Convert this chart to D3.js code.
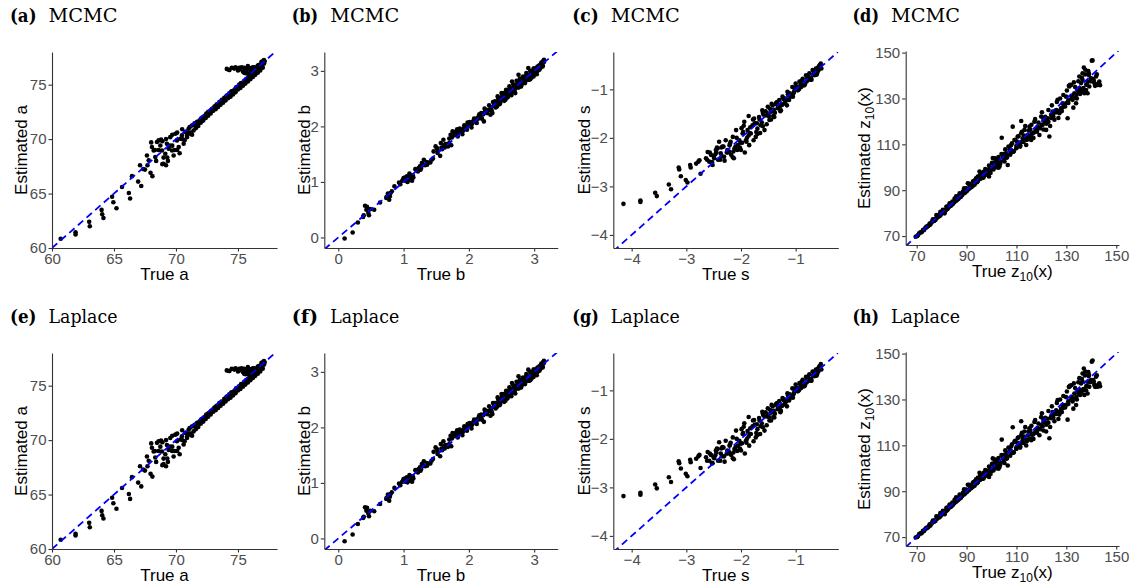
<!DOCTYPE html>
<html><head><meta charset="utf-8">
<script src="https://cdn.jsdelivr.net/npm/d3@7"></script>
<style>body{margin:0;background:#fff}</style>
</head><body><svg id="c" width="1133" height="585"></svg>
<script>
// ---------- DATA ----------
const aTicks = [60, 65, 70, 75];
const bTicks = [0, 1, 2, 3];
const sTicks = [-4, -3, -2, -1];
const zTicks = [70, 90, 110, 130, 150];

const aTrue = [60.7,61.9,61.9,63.0,63.05,64.0,64.05,64.15,64.85,64.95,65.2,65.65,66.2,66.3,66.45,66.95,67.2,67.1,67.35,67.95,68.1,
67.66,67.8,68.06,68.2,68.33,68.47,68.6,68.74,68.87,69.0,69.14,69.27,69.41,69.54,69.68,69.81,69.95,70.08,70.22,70.35,70.48,70.62,70.75,70.89,71.02,71.16,71.29,71.42,
71.5,71.6,71.7,71.8,71.9,72.0,72.1,72.2,72.3,72.4,72.5,72.6,72.7,72.8,72.9,73.0,73.1,73.2,73.3,73.4,73.5,73.6,73.7,73.8,73.9,74.0,74.1,74.2,74.3,74.4,74.5,74.6,74.7,74.8,74.9,75.0,75.1,75.2,75.3,75.4,75.5,75.6,75.7,75.8,75.9,76.0,76.1,76.2,76.3,76.4,76.5,76.6,76.7,76.8,76.9,77.0,77.1,77.15,76.95,76.7,76.4,76.2,77.05,
74.1,74.5,74.8,75.0,75.2,75.4,75.5,75.7,75.9,76.0,76.2,75.8,76.3];
const aEstMCMC = [60.85,61.45,61.25,62.4,62.0,63.5,63.1,62.75,64.7,64.2,63.65,65.6,65.05,64.55,66.6,66.1,65.7,67.6,67.25,66.9,66.6,
68.5,68.05,69.27,68.96,68.35,69.73,69.88,69.42,68.96,67.74,68.66,69.57,69.12,70.18,68.96,68.5,70.49,69.88,69.27,70.03,70.34,69.57,70.64,70.18,70.95,70.49,71.25,70.79,
71.45,71.2,71.6,71.5,71.7,71.8,71.95,72.0,72.1,72.2,72.3,72.5,72.5,72.6,72.75,72.8,73.0,73.0,73.2,73.15,73.4,73.4,73.6,73.5,73.8,73.8,74.0,74.0,74.2,74.1,74.4,74.3,74.5,74.5,74.7,74.8,75.0,74.9,75.1,75.1,75.3,75.4,75.5,75.6,75.7,75.8,75.9,76.0,76.1,76.2,76.3,76.4,76.5,76.6,76.8,76.9,77.0,77.15,77.05,76.8,76.5,76.35,77.2,
76.45,76.55,76.6,76.3,76.5,76.2,76.55,76.3,76.45,76.1,76.6,76.0,76.4];
const aEstLaplace = [60.85,61.4,61.25,62.4,62.0,63.5,63.1,62.8,64.7,64.2,63.7,65.6,65.05,64.6,66.6,66.1,65.75,67.6,67.3,66.9,66.65,
68.5,68.1,69.3,68.95,68.4,69.75,69.9,69.4,68.95,67.8,68.7,69.55,69.1,70.2,69.0,68.5,70.5,69.9,69.3,70.05,70.35,69.6,70.65,70.2,70.95,70.5,71.25,70.8,
71.4,71.2,71.6,71.55,71.7,71.8,71.9,72.0,72.1,72.2,72.3,72.45,72.5,72.6,72.7,72.8,73.0,73.0,73.15,73.15,73.4,73.4,73.55,73.5,73.8,73.75,74.0,74.0,74.2,74.1,74.4,74.3,74.5,74.5,74.7,74.8,74.95,74.9,75.1,75.1,75.3,75.4,75.5,75.55,75.7,75.8,75.9,76.0,76.1,76.2,76.3,76.4,76.5,76.6,76.75,76.9,77.0,77.15,77.05,76.8,76.5,76.35,77.2,
76.4,76.55,76.6,76.3,76.5,76.25,76.55,76.3,76.45,76.1,76.6,76.05,76.4];
// further points of the dense regions (indistinguishable between methods)
const aTrueMore = [71.55,71.75,71.95,72.15,72.35,72.55,72.75,72.95,73.15,73.35,73.55,73.75,73.95,74.15,74.35,74.55,74.75,74.95,75.15,75.35,75.55,75.75,75.95,76.15,76.35,76.55,76.75,76.95,77.1,72.05,72.45,72.85,73.25,73.65,74.05,74.45,74.85,75.25,75.65,76.05,76.45,76.85,
74.3,74.7,75.1,75.3,75.6,75.9,76.1,76.4,76.6,76.8,
68.3,68.9,69.3,69.7,70.1,70.5,70.9,71.2,
71.6,71.8,72.0,72.2,72.4,72.6,72.8,73.0,73.2,73.4,73.6,73.8,74.0,74.2,74.4,74.6,74.8,75.0,75.2,75.4,75.6,75.8,76.0,76.2,76.4,76.6,76.8,77.0,76.9,76.6,77.1,76.3,75.6,76.0,74.3,74.7,75.1,75.8,75.5,
67.5,67.7,68.0,68.4,68.6,68.8,69.0,69.2,69.35,69.5,69.7,69.9,70.1,70.3,70.5,70.7,70.9,71.1,71.3,71.4,68.9,69.2];
const aEstMore = [71.3,71.45,71.65,71.85,72.0,72.25,72.4,72.6,72.85,73.0,73.2,73.4,73.6,73.85,74.0,74.2,74.4,74.6,74.85,75.0,75.2,75.4,75.6,75.85,76.05,76.25,76.45,76.7,76.95,71.9,72.35,72.7,73.1,73.5,73.9,74.35,74.75,75.15,75.5,75.9,76.3,76.75,
76.35,76.5,76.4,76.6,76.35,76.55,76.25,76.5,76.7,76.85,
69.0,69.8,68.3,69.4,69.0,70.0,70.3,70.6,
71.0,71.2,71.5,71.7,71.95,72.15,72.35,72.6,72.75,72.95,73.15,73.35,73.55,73.75,73.9,74.1,74.3,74.55,74.7,74.9,75.1,75.3,75.5,75.7,75.9,76.1,76.3,76.55,77.1,76.75,77.25,76.6,76.05,76.5,76.35,76.5,76.55,76.7,76.1,
67.2,67.6,69.7,68.0,69.0,69.95,68.3,70.0,68.0,69.4,70.4,69.0,70.6,68.7,70.9,69.9,70.6,71.1,70.4,71.3,67.7,67.6];

const bTrue = [0.097,0.22,0.30,0.39,0.41,0.43,0.46,0.49,0.55,0.64,0.735,0.76,0.79,0.82,0.86,0.93,1.0,1.05,1.09,1.12,1.03,1.08,1.18,1.23,1.28,1.31,1.36,1.41,1.46,1.49,1.51,1.56,1.59,1.61,1.64,1.68,1.72,1.75,1.79,1.82,1.85,1.89,1.94,1.98,2.02,2.07,2.11,2.15,2.19,2.23,2.25,2.30,2.33,2.36,2.40,2.43,2.48,2.51,2.53,2.56,2.60,2.63,2.66,2.68,2.71,2.74,2.76,2.80,2.84,2.86,2.89,2.91,2.94,2.97,2.99,3.02,3.04,3.07,3.09,3.12,3.14,2.76,
1.02,1.06,1.10,1.13,1.15,1.20,1.25,1.33,1.45,1.62,1.70,1.78,1.84,1.88,1.92,1.96,2.00,2.05,2.09,2.13,2.17,2.21,2.27,2.32,2.38,2.45,2.50,2.55,2.58,2.62,2.65,2.70,2.73,2.78,2.82,2.88,2.92,2.95,3.00,3.05,3.10,3.13,3.11,2.98];
const bEstMCMC = [-0.02,0.09,0.27,0.40,0.57,0.50,0.44,0.51,0.50,0.63,0.71,0.79,0.74,0.83,0.92,0.99,1.07,1.10,1.15,1.05,1.02,1.03,1.23,1.25,1.34,1.40,1.31,1.35,1.55,1.64,1.61,1.47,1.59,1.76,1.68,1.64,1.85,1.91,1.88,1.95,1.91,1.94,2.0,2.07,2.04,2.10,2.09,2.18,2.24,2.09,2.27,2.30,2.21,2.24,2.45,2.36,2.42,2.54,2.60,2.48,2.54,2.63,2.81,2.69,2.60,2.72,2.81,2.75,2.87,2.78,2.93,3.05,2.85,2.96,2.90,3.02,2.94,3.08,3.05,3.14,3.18,2.93,
1.08,1.00,1.12,1.02,1.08,1.21,1.28,1.30,1.42,1.66,1.70,1.86,1.88,1.90,1.96,1.98,2.02,2.05,2.12,2.15,2.20,2.22,2.25,2.30,2.37,2.50,2.48,2.52,2.60,2.66,2.60,2.68,2.75,2.72,2.80,2.84,2.88,2.98,2.96,3.00,3.06,3.10,3.15,2.99];
const bEstLaplace = [-0.05,0.07,0.26,0.39,0.56,0.50,0.45,0.50,0.49,0.62,0.71,0.79,0.75,0.83,0.91,0.99,1.07,1.10,1.14,1.05,1.02,1.04,1.23,1.25,1.34,1.39,1.31,1.35,1.56,1.64,1.61,1.48,1.59,1.75,1.68,1.65,1.85,1.90,1.88,1.95,1.91,1.94,2.0,2.06,2.04,2.10,2.09,2.18,2.23,2.10,2.27,2.30,2.21,2.24,2.44,2.37,2.42,2.54,2.60,2.48,2.55,2.63,2.80,2.69,2.61,2.72,2.81,2.75,2.86,2.78,2.93,3.04,2.85,2.96,2.91,3.02,2.94,3.08,3.05,3.14,3.18,2.92,
1.08,1.01,1.12,1.02,1.08,1.21,1.28,1.30,1.43,1.66,1.70,1.86,1.88,1.90,1.96,1.98,2.02,2.05,2.12,2.15,2.20,2.22,2.25,2.30,2.37,2.50,2.48,2.52,2.60,2.66,2.60,2.68,2.75,2.72,2.80,2.84,2.88,2.98,2.96,3.00,3.06,3.10,3.15,2.99];
const bTrueMore = [0.95,0.98,1.04,1.07,1.11,1.14,1.22,1.27,1.30,1.38,1.43,1.52,1.58,1.66,1.74,1.77,1.81,1.87,1.91,1.95,1.99,2.03,2.06,2.10,2.14,2.18,2.22,2.26,2.29,2.34,2.39,2.42,2.46,2.49,2.52,2.57,2.61,2.64,2.67,2.69,2.72,2.75,2.77,2.79,2.81,2.83,2.85,2.87,2.90,2.93,2.96,3.01,3.03,3.06,3.08,3.11,3.15,2.88,2.92,3.00,
1.70,1.73,1.80,1.83,1.86,1.90,1.93,1.97,2.01,2.04,2.08,2.12,2.16,2.20,2.24,2.28,2.31,2.35,2.37,2.41,2.44,2.47,2.50,2.54,2.57,2.59,2.62,2.65,2.68,2.70,2.73,2.76,2.78,2.80,2.83,2.86,2.88,2.91,2.94,2.96,2.99,3.02,3.05,3.08,3.10,3.13,3.15,0.38,0.44,0.47,0.78,0.80,0.74,0.99,1.06,1.12,1.26,1.35,1.52,1.57,1.63];
const bEstMore = [0.96,1.02,1.04,1.09,1.06,1.12,1.19,1.25,1.31,1.35,1.40,1.52,1.62,1.68,1.80,1.84,1.86,1.92,1.92,1.97,2.02,2.03,2.08,2.12,2.14,2.19,2.22,2.30,2.28,2.34,2.40,2.44,2.46,2.52,2.56,2.55,2.62,2.58,2.68,2.72,2.74,2.70,2.78,2.80,2.76,2.84,2.82,2.90,2.86,2.88,2.95,2.98,3.04,3.02,3.10,3.12,3.16,2.92,2.84,3.04,
1.78,1.66,1.90,1.82,1.96,1.86,2.02,1.94,2.08,1.98,2.14,2.06,2.22,2.14,2.32,2.24,2.38,2.28,2.44,2.34,2.54,2.40,2.60,2.46,2.66,2.52,2.72,2.56,2.76,2.64,2.82,2.70,2.86,2.72,2.90,2.80,2.96,2.84,3.00,2.88,3.04,2.96,3.08,3.02,3.12,3.08,3.20,0.37,0.55,0.40,0.68,0.80,0.73,1.04,1.06,1.09,1.22,1.36,1.58,1.70,1.62];

const sTrue = [-4.15,-3.84,-3.84,-3.57,-3.54,-3.32,-3.28,-3.14,-3.13,-3.10,-3.01,-2.98,-2.93,-2.92,-2.82,-2.78,-2.74,-2.76,
-2.64,-2.61,-2.58,-2.55,-2.52,-2.49,-2.46,-2.43,-2.40,-2.37,-2.34,-2.31,-2.28,-2.25,-2.21,-2.18,-2.15,-2.12,-2.09,-2.06,-2.03,-2.00,-1.97,-1.94,-1.91,-1.88,-1.85,-1.82,-1.79,-1.76,-1.73,-1.70,-1.67,-1.64,-1.61,-1.57,-1.54,-1.51,-1.48,-1.45,-1.42,-1.39,-1.36,-1.33,-1.30,-1.27,-1.24,-1.21,-1.18,-1.15,-1.12,-1.09,-1.06,-1.03,-1.00,-0.97,-0.93,-0.90,-0.87,-0.84,-0.81,-0.78,-0.75,-0.72,-0.69,-0.66,-0.63,-0.60,-0.57,-0.54,-0.53,
-2.45,-2.35,-2.22,-2.10,-1.98,-1.86,-1.75,-1.62,-1.50,-1.40,-1.32,-1.25,-1.17,-1.10,-1.04,-0.98,-0.92,-0.86,-0.80,-0.74,-0.68,-0.62,-0.58,-0.56];
const sEstMCMC = [-3.36,-3.29,-3.32,-3.13,-3.20,-2.96,-3.06,-2.61,-2.65,-2.79,-2.87,-2.92,-2.56,-2.61,-2.53,-2.49,-2.74,-2.46,
-2.42,-2.29,-2.49,-2.35,-2.56,-2.42,-2.25,-2.22,-2.08,-2.32,-2.18,-2.39,-2.05,-2.25,-2.15,-2.35,-1.98,-2.22,-1.84,-2.15,-2.05,-2.25,-1.91,-1.67,-2.05,-1.84,-2.15,-1.91,-1.74,-1.60,-1.98,-1.81,-1.57,-1.74,-1.43,-1.84,-1.54,-1.36,-1.63,-1.46,-1.33,-1.57,-1.28,-1.39,-1.22,-1.43,-1.15,-1.29,-1.19,-1.05,-1.22,-1.12,-0.95,-1.05,-0.88,-0.98,-0.84,-0.95,-0.78,-0.88,-0.71,-0.81,-0.67,-0.78,-0.60,-0.71,-0.57,-0.64,-0.52,-0.47,-0.57,
-2.30,-2.38,-2.28,-2.18,-2.10,-1.95,-1.70,-1.68,-1.50,-1.42,-1.35,-1.32,-1.22,-1.15,-1.08,-1.00,-0.93,-0.90,-0.84,-0.76,-0.70,-0.62,-0.60,-0.50];
const sEstLaplace = [-3.18,-3.11,-3.15,-2.94,-3.02,-2.79,-2.89,-2.46,-2.50,-2.61,-2.72,-2.77,-2.43,-2.48,-2.41,-2.36,-2.60,-2.33,
-2.38,-2.27,-2.45,-2.33,-2.50,-2.40,-2.24,-2.21,-2.07,-2.30,-2.17,-2.36,-2.04,-2.24,-2.14,-2.33,-1.97,-2.21,-1.83,-2.14,-2.04,-2.24,-1.90,-1.68,-2.04,-1.84,-2.14,-1.90,-1.74,-1.61,-1.97,-1.80,-1.57,-1.74,-1.44,-1.83,-1.54,-1.37,-1.62,-1.46,-1.33,-1.56,-1.28,-1.39,-1.22,-1.42,-1.16,-1.29,-1.19,-1.06,-1.21,-1.12,-0.96,-1.05,-0.88,-0.98,-0.85,-0.95,-0.78,-0.88,-0.72,-0.81,-0.67,-0.77,-0.61,-0.71,-0.57,-0.64,-0.52,-0.46,-0.57,
-2.28,-2.36,-2.27,-2.17,-2.09,-1.95,-1.71,-1.68,-1.50,-1.42,-1.35,-1.32,-1.22,-1.15,-1.08,-1.00,-0.93,-0.90,-0.84,-0.76,-0.70,-0.62,-0.60,-0.50];
const sTrueMore = [-2.50,-2.44,-2.38,-2.32,-2.26,-2.20,-2.14,-2.08,-2.02,-1.96,-1.90,-1.84,-1.78,-1.72,-1.66,-1.60,-1.55,-1.49,-1.44,-1.38,-1.34,-1.29,-1.23,-1.19,-1.14,-1.08,-1.02,-0.96,-0.91,-0.85,-0.79,-0.73,-0.67,-0.61,-0.59,-1.70,-1.95,-2.15,-1.45,-1.60,
-2.62,-2.57,-2.53,-2.47,-2.42,-2.36,-2.30,-2.24,-2.19,-2.13,-2.07,-2.01,-1.99,-1.93,-1.89,-1.83,-1.77,-1.71,-1.65,-1.59,-1.53,-1.47,-1.41,-1.35,-1.28,-1.22,-1.16,-1.11,-1.05,-0.99,-0.94,-0.89,-0.83,-0.77,-0.71,-0.65,-0.62,-0.58,-1.86];
const sEstMore = [-2.38,-2.20,-2.45,-2.18,-2.30,-2.12,-2.28,-2.00,-2.20,-1.88,-2.08,-1.90,-1.62,-1.88,-1.62,-1.76,-1.45,-1.55,-1.30,-1.48,-1.26,-1.36,-1.18,-1.26,-1.10,-1.12,-0.98,-1.02,-0.86,-0.92,-0.76,-0.80,-0.64,-0.68,-0.55,-1.92,-1.75,-2.40,-1.62,-1.48,
-2.45,-2.30,-2.50,-2.34,-2.45,-2.20,-2.47,-2.30,-2.08,-2.42,-2.25,-2.10,-1.80,-2.30,-2.00,-1.78,-2.05,-1.70,-1.90,-1.52,-1.72,-1.40,-1.55,-1.30,-1.45,-1.20,-1.33,-1.08,-1.15,-0.94,-1.00,-0.82,-0.90,-0.73,-0.80,-0.62,-0.70,-0.55,-1.55];

const zTrue = [69.6,72.5,73.9,75.2,76.5,77.9,78.5,79.5,80.5,81.2,81.9,82.5,83.2,84.3,85.2,85.9,86.5,87.2,87.9,88.5,89.2,89.9,90.5,91.2,91.9,92.5,93.6,94.5,95.2,95.9,96.5,97.9,98.5,99.2,100.5,101.2,101.9,102.5,103.2,104.1,104.5,105.2,105.9,106.5,107.2,107.9,108.5,109.2,109.9,110.5,111.2,111.9,112.5,113.2,113.9,114.5,115.2,115.9,116.5,117.2,117.9,118.5,119.2,119.9,120.5,121.2,121.9,123.2,122.5,123.9,124.5,125.2,125.9,126.5,127.2,127.9,128.5,129.2,129.9,130.5,131.2,131.9,132.5,133.2,133.9,134.5,135.2,135.9,136.5,137.2,137.6,137.9,138.5,139.2,139.9,140.5,141.2,141.9,142.5,143.2,138.5,135.2,136.5,111.9,
71.0,74.5,77.0,79.0,80.0,81.0,82.0,83.0,84.0,85.5,86.0,87.5,88.0,89.0,90.0,91.0,92.0,93.0,94.0,96.0,97.0,98.0,99.5,100.0,101.0,102.0,103.0,105.0,106.0,108.0,110.0,112.0,114.0,116.0,118.0,120.0,122.0,124.0,126.0,128.0,130.0,132.0,134.0,136.0,138.0,140.0,142.0,100.5,99.0];
const zEstMCMC = [69.7,72.6,74.1,75.5,77.3,79.2,78.4,80.6,81.4,79.9,82.8,82.1,84.3,85.0,86.4,85.7,87.2,88.6,87.9,89.4,90.1,90.8,93.0,92.3,91.5,93.7,94.5,95.9,98.1,95.2,96.6,97.4,98.8,100.3,101.7,103.9,101.0,103.2,100.3,112.9,104.6,102.5,106.1,101.0,107.6,109.7,117.7,111.9,108.3,113.4,110.5,114.8,112.6,116.3,109.7,114.1,117.7,111.9,114.8,119.9,116.3,117.7,114.1,122.1,118.5,119.9,116.3,113.4,121.3,122.8,124.3,120.7,125.0,129.4,123.6,125.8,127.9,127.2,130.8,121.4,135.2,135.9,129.4,132.3,127.9,133.7,134.5,136.7,138.1,132.3,142.5,133.7,137.4,135.2,138.8,146.6,136.7,139.6,135.9,137.4,132.3,139.6,141.0,120.2,
71.2,74.3,76.6,78.6,80.2,80.5,81.7,83.0,83.6,85.3,85.8,87.0,87.7,88.7,89.6,90.6,91.4,92.6,93.8,95.5,96.6,97.8,99.5,99.0,100.5,101.5,100.8,104.0,105.5,106.5,109.5,111.0,112.0,114.5,116.0,118.5,120.0,121.5,124.0,125.5,128.0,130.0,131.5,133.0,136.0,137.5,136.0,104.0,96.0];
const zEstLaplace = [69.8,72.7,74.0,75.6,77.2,79.0,78.5,80.5,81.5,80.0,82.7,82.2,84.2,85.1,86.3,85.8,87.1,88.5,88.0,89.3,90.2,90.7,92.8,92.4,91.6,93.6,94.6,95.8,98.0,95.3,96.5,97.5,98.7,100.2,101.8,103.6,101.1,103.0,100.5,112.5,104.8,102.3,106.3,101.2,107.4,109.5,117.9,111.6,108.5,113.2,110.7,114.5,112.8,116.0,109.9,114.3,117.4,112.2,114.6,120.2,116.5,117.5,114.4,122.3,118.3,120.1,116.0,113.1,121.6,122.5,124.5,120.5,125.3,129.7,123.4,126.0,127.6,127.5,131.0,121.2,135.5,136.2,129.1,132.6,127.6,134.0,134.2,137.0,137.8,132.0,142.2,134.0,137.7,135.5,138.5,147.0,136.4,139.9,135.6,137.1,132.6,139.3,141.3,120.5,
71.3,74.2,76.7,78.5,80.3,80.6,81.6,83.1,83.5,85.4,85.9,86.9,87.8,88.6,89.7,90.5,91.5,92.5,93.9,95.4,96.7,97.7,99.6,98.8,100.7,101.3,101.0,104.3,105.2,106.8,109.2,111.3,111.7,114.8,115.7,118.8,119.7,121.8,123.7,125.8,127.7,130.3,131.2,133.3,135.7,137.8,135.7,104.3,96.2];
const zTrueMore = [70.5,72.0,73.0,74.0,75.5,76.0,77.5,78.0,79.5,80.2,81.5,82.3,82.8,83.5,84.5,85.0,86.2,86.8,87.6,88.3,89.5,90.3,91.5,92.3,93.2,94.2,95.5,96.2,97.3,98.2,99.0,99.8,100.8,101.5,102.3,103.5,104.8,106.2,107.5,108.8,110.2,111.5,113.0,114.2,115.5,117.0,118.8,120.8,122.8,124.8,126.8,128.8,130.8,132.8,134.8,136.8,139.0,141.0,143.0,92.8,96.8,102.8,
95.5,96.8,97.5,98.2,99.0,99.6,100.2,100.8,101.5,102.0,102.8,103.5,104.0,104.8,105.5,106.0,106.8,107.5,108.2,108.9,109.5,110.0,110.8,111.5,112.2,112.8,113.5,114.0,114.8,115.5,116.0,116.8,117.5,118.2,118.8,119.5,120.2,120.8,121.5,122.0,122.8,123.5,124.2,124.8,125.5,126.2,126.8,127.5,128.2,128.8,129.5,130.2,130.8,131.5,132.2,132.8,133.5,134.2,134.8,135.5,136.2,136.8,137.5,138.2,138.8,139.5,140.2,140.8,141.5,142.2,142.8,143.5,137.0,139.0,133.0,131.0,
70.2,71.5,72.8,73.5,74.8,76.2,77.2,78.2,79.2,80.8,81.8,82.2,83.8,84.8,85.6,86.6,87.4,88.2,88.9,89.6,90.7,91.6,92.6,93.4,94.6,95.0,93.8,91.0,89.0,85.8];
const zEstMore = [70.3,71.7,72.8,73.8,75.0,75.9,77.0,77.8,79.0,79.9,81.0,81.8,82.6,83.1,84.0,84.7,85.8,86.4,87.0,88.0,89.0,89.9,91.3,91.8,92.4,93.5,95.0,95.4,96.5,98.5,97.6,99.4,100.0,102.3,100.6,102.4,105.8,104.4,107.8,106.8,111.2,109.6,113.8,112.0,116.4,115.2,117.0,121.0,119.8,123.6,124.6,126.4,129.2,130.3,132.8,134.0,140.2,137.7,136.4,94.0,98.0,99.8,
97.0,95.5,99.2,96.8,100.8,97.5,102.0,99.0,103.8,100.0,104.5,101.5,105.8,103.0,107.8,104.2,109.0,105.5,110.5,107.0,112.0,108.5,113.5,109.0,115.5,111.0,118.0,112.5,116.0,113.0,118.5,112.8,121.0,115.5,119.5,117.0,124.0,116.5,122.0,119.0,125.0,118.0,127.0,122.0,124.0,128.5,121.5,130.0,124.5,131.5,126.5,133.5,128.0,136.0,131.0,126.0,135.0,130.0,137.5,132.0,139.0,134.5,140.5,136.0,142.0,137.5,146.5,138.5,135.5,140.5,136.5,135.8,143.5,141.0,137.0,135.5,
70.0,71.6,72.5,73.6,74.6,76.3,77.3,78.5,79.5,80.7,81.5,82.9,83.3,84.6,85.2,86.2,87.6,88.1,88.8,89.4,90.4,91.2,92.0,93.0,94.0,95.8,95.2,92.8,90.8,87.3];

const methods = ["MCMC", "Laplace"];
const tags = [["(a)","(b)","(c)","(d)"], ["(e)","(f)","(g)","(h)"]];
const varNames = ["a", "b", "s", "z"];

// ---------- LAYOUT ----------
const cols = [
  {xs: aTrue, ys: [aEstMCMC, aEstLaplace], xm: aTrueMore, ym: aEstMore, ticks: aTicks, xr:[52,277], xd:[60,78.15], yr:[248,52], yd:[60,78], titleX:10, yTitleX:26.5, xTitleY:280},
  {xs: bTrue, ys: [bEstMCMC, bEstLaplace], xm: bTrueMore, ym: bEstMore, ticks: bTicks, xr:[324.3,557.7], xd:[-0.214,3.36], yr:[248,52], yd:[-0.19,3.34], titleX:291.7, yTitleX:309.5, xTitleY:280},
  {xs: sTrue, ys: [sEstMCMC, sEstLaplace], xm: sTrueMore, ym: sEstMore, ticks: sTicks, xr:[613.3,838.3], xd:[-4.336,-0.22], yr:[248,52], yd:[-4.27,-0.23], titleX:572.3, yTitleX:590, xTitleY:280},
  {xs: zTrue, ys: [zEstMCMC, zEstLaplace], xm: zTrueMore, ym: zEstMore, ticks: zTicks, xr:[905.7,1119], xd:[65.6,151.1], yr:[245,51], yd:[66.1,150.7], titleX:852.5, yTitleX:870, xTitleY:277}
];
const rowOff = [0, 301];
const titleBase = [21.5, 322.5];

const svg = d3.select("#c");
const fmt = d3.format("");
const sans = "'Liberation Sans', Arial, sans-serif";

cols.forEach((c, ci) => {
  [0, 1].forEach(ri => {
    const off = rowOff[ri];
    const x = d3.scaleLinear().domain(c.xd).range(c.xr);
    const y = d3.scaleLinear().domain(c.yd).range([c.yr[0] + off, c.yr[1] + off]);
    const g = svg.append("g");
    const cid = "clip" + ci + ri;
    g.append("clipPath").attr("id", cid).append("rect")
      .attr("x", c.xr[0]).attr("y", c.yr[1] + off)
      .attr("width", c.xr[1] - c.xr[0]).attr("height", c.yr[0] - c.yr[1]);

    // points
    const pts = d3.zip(c.xs, c.ys[ri]).concat(d3.zip(c.xm, c.ym));
    g.append("g").attr("clip-path", `url(#${cid})`)
      .selectAll("circle").data(pts).join("circle")
      .attr("cx", d => x(d[0])).attr("cy", d => y(d[1])).attr("r", 2.3).attr("fill", "#000");

    // identity line
    const lo = Math.min(c.xd[0], c.yd[0]), hi = Math.max(c.xd[1], c.yd[1]);
    g.append("line").attr("clip-path", `url(#${cid})`)
      .attr("x1", x(lo)).attr("y1", y(lo)).attr("x2", x(hi)).attr("y2", y(hi))
      .attr("stroke", "#0000ff").attr("stroke-width", 1.8).attr("stroke-dasharray", "7,4.5");

    // axes
    const ax = g.append("g").attr("transform", `translate(0,${c.yr[0] + off})`)
      .call(d3.axisBottom(x).tickValues(c.ticks).tickFormat(fmt).tickSize(3.5).tickPadding(1.5).tickSizeOuter(0));
    const ay = g.append("g").attr("transform", `translate(${c.xr[0]},0)`)
      .call(d3.axisLeft(y).tickValues(c.ticks).tickFormat(fmt).tickSize(3.5).tickPadding(2).tickSizeOuter(0));
    [ax, ay].forEach(a => {
      a.select(".domain").attr("stroke", "#333").attr("stroke-width", 1.1);
      a.selectAll(".tick line").attr("stroke", "#333").attr("stroke-width", 1.1);
      a.selectAll(".tick text").attr("fill", "#4d4d4d").style("font-family", sans).style("font-size", "15px");
    });

    // axis titles
    const cx = (c.xr[0] + c.xr[1]) / 2;
    const cy = (c.yr[0] + c.yr[1]) / 2 + off;
    const xt = svg.append("text").attr("x", cx).attr("y", c.xTitleY + off)
      .attr("text-anchor", "middle").attr("fill", "#000")
      .style("font-family", sans).style("font-size", "17px");
    const yt = svg.append("text").attr("transform", `translate(${c.yTitleX},${cy}) rotate(-90)`)
      .attr("text-anchor", "middle").attr("fill", "#000")
      .style("font-family", sans).style("font-size", "17px");
    if (varNames[ci] === "z") {
      [[xt, "True z"], [yt, "Estimated z"]].forEach(([t, s]) => {
        t.append("tspan").text(s);
        t.append("tspan").text("10").style("font-size", "12px").attr("dy", 4);
        t.append("tspan").text("(x)").attr("dy", -4);
      });
    } else {
      xt.text("True " + varNames[ci]);
      yt.text("Estimated " + varNames[ci]);
    }

    // panel title
    svg.append("text").attr("x", c.titleX).attr("y", titleBase[ri])
      .style("font-family", "'DejaVu Serif', serif").style("font-size", "18px").style("font-weight", "bold")
      .attr("fill", "#000").attr("textLength", 26.5).attr("lengthAdjust", "spacingAndGlyphs")
      .text(tags[ri][ci]);
    svg.append("text").attr("x", c.titleX + 38.5).attr("y", titleBase[ri])
      .style("font-family", "'DejaVu Serif', serif").style("font-size", "18px")
      .attr("fill", "#000").attr("textLength", 69).attr("lengthAdjust", "spacingAndGlyphs")
      .text(methods[ri]);
  });
});
</script>
</body></html>
